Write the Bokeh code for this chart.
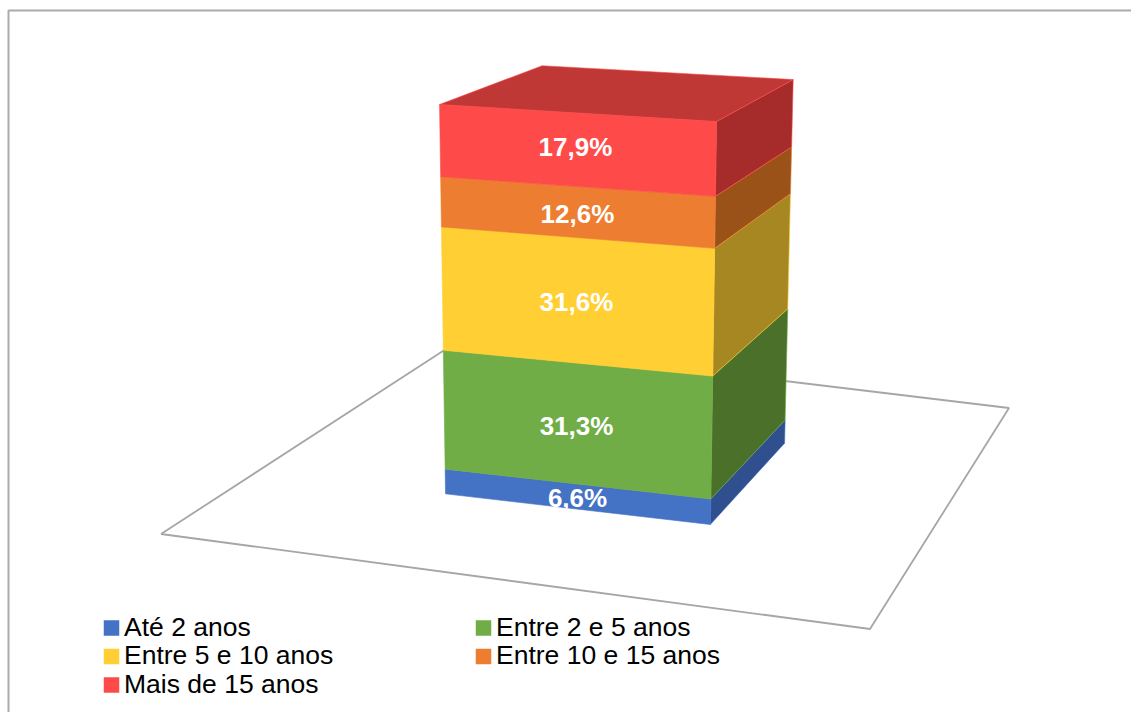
import numpy as np
from bokeh.core.properties import value
from bokeh.embed import file_html
from bokeh.models import ColumnDataSource, Range1d
from bokeh.plotting import figure
from bokeh.resources import INLINE

# Stacked share of each age band
categories = ["Até 2 anos", "Entre 2 e 5 anos", "Entre 5 e 10 anos", "Entre 10 e 15 anos", "Mais de 15 anos"]
shares = [6.6, 31.3, 31.6, 12.6, 17.9]
labels = ["6,6%", "31,3%", "31,6%", "12,6%", "17,9%"]

front_colors = ["#4472C4", "#70AD47", "#FFCF33", "#ED7D31", "#FF4A4A"]
side_colors = ["#2F4F8F", "#4A7029", "#A68722", "#9A5219", "#A62B2B"]
top_color = "#BF3835"

FONT = "Liberation Sans"

# Camera for the 3D column: unit-cube corners (width, depth, height) and where they land on the page
cube_corners = [(0, 0, 0), (1, 0, 0), (1, 1, 0), (0, 0, 1), (1, 0, 1), (1, 1, 1), (0, 1, 1)]
page_corners = [(445, 493.3), (710, 524), (784, 442.7), (439, 104.3), (716, 120.7), (792.7, 79.3), (541.7, 65)]


def fit_camera(world, page):
    rows = []
    for (X, Y, Z), (u, v) in zip(world, page):
        rows.append([X, Y, Z, 1, 0, 0, 0, 0, -u * X, -u * Y, -u * Z, -u])
        rows.append([0, 0, 0, 0, X, Y, Z, 1, -v * X, -v * Y, -v * Z, -v])
    return np.linalg.svd(np.array(rows, dtype=float))[2][-1].reshape(3, 4)


CAMERA = fit_camera(cube_corners, page_corners)


def project(points):
    pts = np.column_stack([np.array(points, dtype=float), np.ones(len(points))])
    h = pts @ CAMERA.T
    return list(h[:, 0] / h[:, 2]), list(h[:, 1] / h[:, 2])


p = figure(width=1131, height=712, output_backend="svg", toolbar_location=None,
           x_range=Range1d(0, 1131), y_range=Range1d(712, 0),
           min_border=0, outline_line_color=None, background_fill_color="white")
p.axis.visible = False
p.grid.visible = False

# Chart frame, open towards the right and bottom of the page
p.line([8, 8, 1131], [712, 10, 10], line_color="#ABABAB", line_width=2)

# Floor of the 3D plot
floor_x = [160.5, 869.5, 1008.5, 457.1, 160.5]
floor_y = [533.5, 628.5, 407.5, 341.1, 533.5]
p.line(floor_x, floor_y, line_color="#A6A6A6", line_width=1.8)

# Column faces, one stacked segment at a time
levels = np.concatenate([[0], np.cumsum(shares)]) / sum(shares)
xs, ys, fills, strokes = [], [], [], []
for i in range(len(shares)):
    z0, z1 = levels[i], levels[i + 1]
    sx, sy = project([(1, 0, z0), (1, 1, z0), (1, 1, z1), (1, 0, z1)])
    xs.append(sx); ys.append(sy); fills.append(side_colors[i]); strokes.append(front_colors[i])
    fx, fy = project([(0, 0, z0), (1, 0, z0), (1, 0, z1), (0, 0, z1)])
    xs.append(fx); ys.append(fy); fills.append(front_colors[i]); strokes.append(front_colors[i])
tx, ty = project([(0, 0, 1), (1, 0, 1), (1, 1, 1), (0, 1, 1)])
xs.append(tx); ys.append(ty); fills.append(top_color); strokes.append(front_colors[-1])
p.patches(xs="xs", ys="ys", fill_color="fills", line_color="strokes", line_width=1, line_alpha=0.6,
          source=ColumnDataSource(dict(xs=xs, ys=ys, fills=fills, strokes=strokes)))

# Value labels centred on each front face, with small nudges to keep them clear of the seams
mids = (levels[:-1] + levels[1:]) / 2
lx, ly = project([(0.5, 0, m) for m in mids])
p.text(lx, ly, text=labels, x_offset=[2, 1, 1, 2, 0], y_offset=[2, 2, 1, 2, -3],
       text_color="white", text_align="center", text_baseline="middle",
       text_font=value(FONT), text_font_style="bold", text_font_size="26px")

# Two-column legend
swatch_x = [111, 483, 111, 483, 111]
swatch_y = [627.5, 627.5, 656, 656, 684.5]
text_x = [123.5, 495.5, 123.5, 495.5, 123.5]
text_y = [626, 626, 654.5, 654.5, 683]
p.rect(swatch_x, swatch_y, width=15.5, height=15.5, fill_color=front_colors, line_color=None)
p.text(text_x, text_y, text=categories, text_color="#000000", text_align="left", text_baseline="alphabetic",
       text_font=value(FONT), text_font_size="26.5px")

open("out.html", "w").write(file_html(p, INLINE))
